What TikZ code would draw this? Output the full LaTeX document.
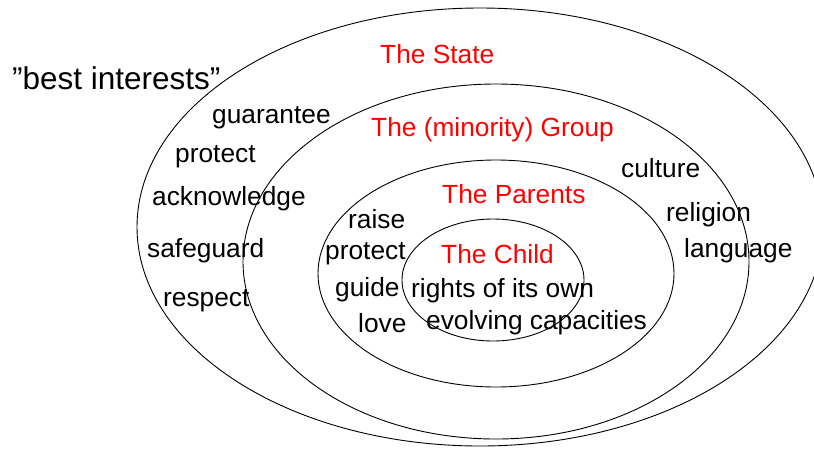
\documentclass[tikz,border=0pt]{standalone}
\usepackage{fontspec}
\setmainfont{Liberation Sans}
\usetikzlibrary{shapes.geometric}
\definecolor{labelred}{RGB}{255,0,0}
\begin{document}
\begin{tikzpicture}[x=1pt,y=-1pt,
  ring/.style={ellipse, draw=black, line width=0.9pt, inner sep=0pt, fill=none},
  word/.style={anchor=base west, inner sep=0pt, font=\fontsize{26.3}{30}\selectfont},
  circlename/.style={word, text=labelred},
  bigword/.style={anchor=base west, inner sep=0pt, font=\fontsize{31.5}{36}\selectfont}]
\useasboundingbox (0,0) rectangle (814,448);
\clip (0,0) rectangle (814,448);

% nested spheres
\node[ring, minimum width=686pt, minimum height=438pt] (state) at (480,227) {};
\node[ring, minimum width=506pt, minimum height=355pt] (group) at (496,261.5) {};
\node[ring, minimum width=356pt, minimum height=227pt] (parents) at (496,273.5) {};
\node[ring, minimum width=182pt, minimum height=122pt] (child) at (493,280) {};

% sphere names
\node[circlename] (tstate) at (380,63) {The State};
\node[circlename] (tgroup) at (371,136) {The (minority) Group};
\node[circlename] (tparents) at (442,203) {The Parents};
\node[circlename] (tchild) at (441,263) {The Child};

% state duties
\node[bigword] (best) at (12,89) {”best interests”};
\node[word] (guarantee) at (212,123) {guarantee};
\node[word] (protectA) at (175,162) {protect};
\node[word] (acknowledge) at (152,205) {acknowledge};
\node[word] (safeguard) at (147,257) {safeguard};
\node[word] (respect) at (163,306) {respect};

% group
\node[word] (culture) at (621,177) {culture};
\node[word] (religion) at (666,221) {religion};
\node[word] (language) at (684,257) {language};

% parents
\node[word] (raise) at (348,228) {raise};
\node[word] (protectB) at (325,259) {protect};
\node[word] (guide) at (335,296) {guide};
\node[word] (love) at (358,332) {love};

% child
\node[word] (rights) at (411,297) {rights of its own};
\node[word] (evolving) at (426,329) {evolving capacities};
\end{tikzpicture}
\end{document}
